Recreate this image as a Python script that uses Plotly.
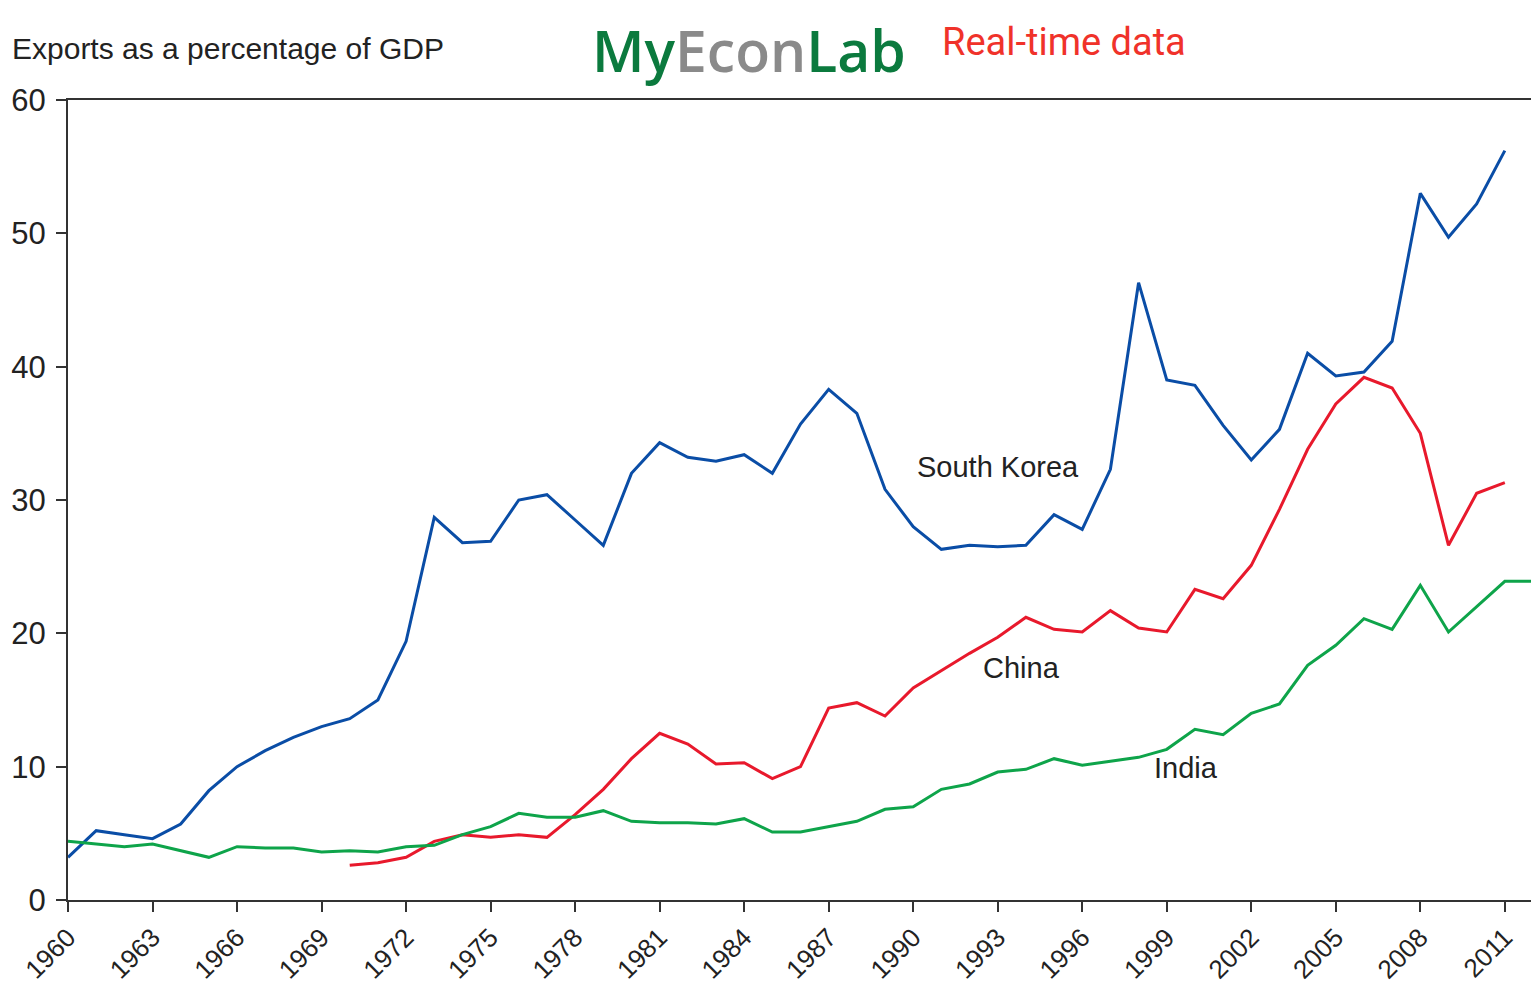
import plotly.graph_objects as go

years = list(range(1960, 2013))

south_korea = [3.2, 5.2, 4.9, 4.6, 5.7, 8.2, 10.0, 11.2, 12.2, 13.0,
               13.6, 15.0, 19.4, 28.7, 26.8, 26.9, 30.0, 30.4, 28.5, 26.6,
               32.0, 34.3, 33.2, 32.9, 33.4, 32.0, 35.7, 38.3, 36.5, 30.8,
               28.0, 26.3, 26.6, 26.5, 26.6, 28.9, 27.8, 32.3, 46.3, 39.0,
               38.6, 35.6, 33.0, 35.3, 41.0, 39.3, 39.6, 41.9, 53.0, 49.7,
               52.2, 56.2, None]

china = [None] * 10 + [2.6, 2.8, 3.2, 4.4, 4.9, 4.7, 4.9, 4.7, 6.4, 8.3,
                       10.6, 12.5, 11.7, 10.2, 10.3, 9.1, 10.0, 14.4, 14.8, 13.8,
                       15.9, 17.2, 18.5, 19.7, 21.2, 20.3, 20.1, 21.7, 20.4, 20.1,
                       23.3, 22.6, 25.1, 29.3, 33.8, 37.2, 39.2, 38.4, 35.0, 26.6,
                       30.5, 31.3, None]

india = [4.4, 4.2, 4.0, 4.2, 3.7, 3.2, 4.0, 3.9, 3.9, 3.6,
         3.7, 3.6, 4.0, 4.1, 4.9, 5.5, 6.5, 6.2, 6.2, 6.7,
         5.9, 5.8, 5.8, 5.7, 6.1, 5.1, 5.1, 5.5, 5.9, 6.8,
         7.0, 8.3, 8.7, 9.6, 9.8, 10.6, 10.1, 10.4, 10.7, 11.3,
         12.8, 12.4, 14.0, 14.7, 17.6, 19.1, 21.1, 20.3, 23.6, 20.1,
         22.0, 23.9, 23.9]

tick_years = list(range(1960, 2012, 3))
tick_labels = [str(y) for y in tick_years]

series = [("South Korea", south_korea, "#0a4da6"),
          ("China", china, "#e8192c"),
          ("India", india, "#0ea44a")]

labels = [("South Korea", 1993.0, 32.5), ("China", 1993.85, 17.4), ("India", 1999.7, 9.9)]

fig = go.Figure()
for name, vals, col in series:
    fig.add_trace(go.Scatter(x=years, y=vals, mode="lines", name=name,
                             line=dict(color=col, width=3), connectgaps=False))

for txt, x, y in labels:
    fig.add_annotation(x=x, y=y, text=txt, showarrow=False,
                       font=dict(family="Liberation Sans, Arial", size=29, color="#222222"))

fig.add_annotation(xref="paper", yref="paper", x=-0.0396, y=1.065, xanchor="left", yanchor="middle",
                   text="Exports as a percentage of GDP", showarrow=False,
                   font=dict(family="Liberation Sans, Arial", size=30, color="#222222"))

fig.add_annotation(xref="paper", yref="paper", x=0.356, y=1.062, xanchor="left", yanchor="middle",
                   text="<span style='color:#0b7a3e'>My</span><span style='color:#8a8a8a'>Econ</span><span style='color:#0b7a3e'>Lab</span>",
                   showarrow=False,
                   font=dict(family="Open Sans, Noto Sans", size=57, weight=600))

fig.add_annotation(xref="paper", yref="paper", x=0.595, y=1.073, xanchor="left", yanchor="middle",
                   text="Real-time data", showarrow=False,
                   font=dict(family="Roboto, Liberation Sans", size=38, color="#f0322a"))

fig.update_xaxes(range=[1960, 2012], tickvals=tick_years, ticktext=tick_labels,
                 tickangle=-45, ticks="outside", ticklen=10, tickwidth=2, tickcolor="#333",
                 showline=True, linecolor="#333", linewidth=2, mirror=True, automargin=False,
                 showgrid=False, zeroline=False,
                 tickfont=dict(family="Liberation Sans, Arial", size=26, color="#222222"))
fig.update_yaxes(range=[0, 60], dtick=10, ticks="outside", ticklen=10, tickwidth=2, tickcolor="#333",
                 showline=True, linecolor="#333", linewidth=2, mirror=True, automargin=False,
                 ticklabelstandoff=4,
                 showgrid=False, zeroline=False,
                 tickfont=dict(family="Liberation Sans, Arial", size=31, color="#222222"))

# page body adds an 8px offset, so the figure is slightly smaller than the window
fig.update_layout(width=1531, height=980, showlegend=False,
                  plot_bgcolor="white", paper_bgcolor="white",
                  margin=dict(l=60, r=6, t=92, b=88))

fig.write_html("out.html")
